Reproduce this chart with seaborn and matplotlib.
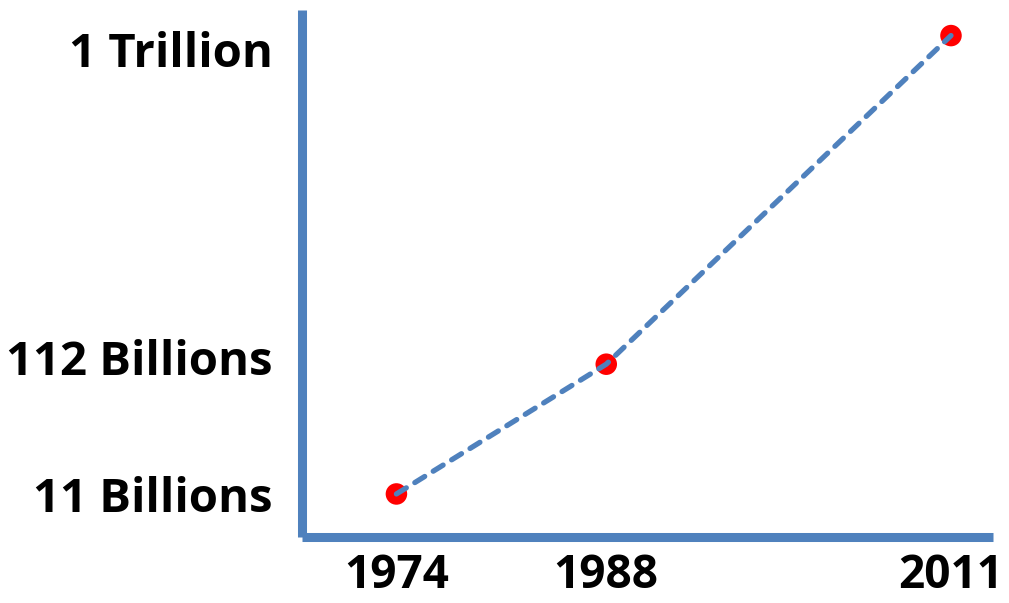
import seaborn as sns
import pandas as pd
import matplotlib.pyplot as plt
import matplotlib.transforms as mtransforms
import numpy as np

sns.set_theme(style="white")
plt.rcParams['font.family'] = ['Open Sans', 'DejaVu Sans']

# data (values in billions)
years = [1974, 1988, 2011]
values = [11, 112, 1000]
value_labels = ['11 Billions', '112 Billions', '1 Trillion']

df = pd.DataFrame({'year': years, 'value': values})

blue = '#4F81BD'
p = 0.44  # rough power scale used by the original drawing

fig = plt.figure(figsize=(10.09, 6.03), dpi=100)
ax = fig.add_axes([0.2993, 0.1095, 0.6848, 0.874])

ax.set_yscale('function', functions=(lambda v: np.sign(v) * np.abs(v) ** p,
                                     lambda v: np.sign(v) * np.abs(v) ** (1 / p)))

sns.scatterplot(data=df, x='year', y='value', color='red', s=240, edgecolor='none',
                ax=ax, zorder=2, clip_on=False, legend=False)
sns.lineplot(data=df, x='year', y='value', color=blue, linewidth=3.8, ax=ax,
             zorder=3, legend=False)
ln = ax.lines[0]
ln.set_dashes((2.2, 1.9))
ln.set_dash_capstyle('round')

ax.set_xlim(1967.7, 2013.8)
ax.set_ylim(1.46, 1113)

ax.set_xticks(years)
ax.set_xticklabels([str(y) for y in years])
ax.set_yticks(values)
ax.set_yticklabels(value_labels)
ax.tick_params(axis='y', length=0, labelsize=34, labelcolor='black', pad=21)
ax.tick_params(axis='x', length=0, labelsize=33, labelcolor='black', pad=11)
for lbl in ax.get_xticklabels() + ax.get_yticklabels():
    lbl.set_fontweight('bold')

# the original labels sit a little off their points
shifts = [0, 7, -13]
for lbl, dy in zip(ax.get_yticklabels(), shifts):
    lbl.set_transform(lbl.get_transform() +
                      mtransforms.ScaledTranslation(0, dy / 100, fig.dpi_scale_trans))

ax.set_xlabel('')
ax.set_ylabel('')
for s in ['top', 'right']:
    ax.spines[s].set_visible(False)
for s in ['left', 'bottom']:
    ax.spines[s].set_color(blue)
    ax.spines[s].set_linewidth(6.5)
    ax.spines[s].set_capstyle('butt')

fig.savefig('out.png', dpi=100)
